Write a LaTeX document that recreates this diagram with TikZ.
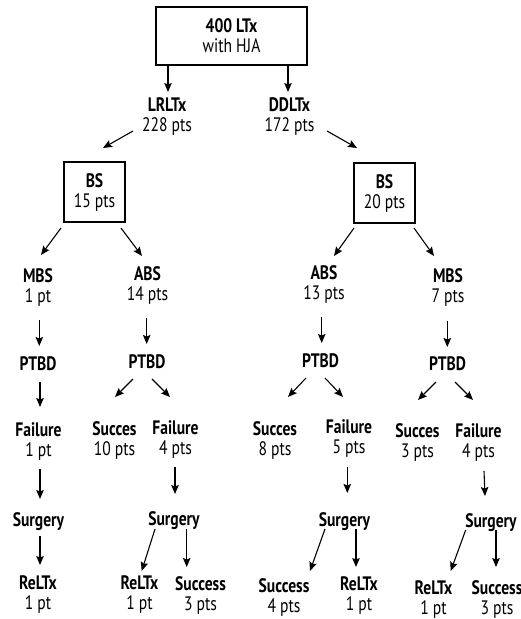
\documentclass[tikz,border=0pt]{standalone}
\usepackage{fontspec}
\setmainfont[FakeStretch=0.8]{PT Sans}
\usetikzlibrary{arrows.meta, calc}

\begin{document}
\begin{tikzpicture}[
  x=1pt, y=-1pt,
  lab/.style   = {align=center, inner sep=0pt, font=\fontsize{19.5}{20}\selectfont},
  block/.style = {lab, draw, line width=1.4pt, minimum height=60pt, minimum width=61pt},
  arrow/.style = {line width=1.1pt, -{Stealth[length=9pt, width=7.5pt, inset=1.5pt]}}
]
  \useasboundingbox (0,0) rectangle (521,619);

  % Root and first split
  \node[block, minimum width=151pt, minimum height=58pt] (root) at (231.5,36) {\textbf{400 LTx}\\with HJA};
  \node[lab] (lrltx) at (167,116.5) {\textbf{LRLTx}\\228 pts};
  \node[lab] (ddltx) at (289.5,116.5) {\textbf{DDLTx}\\172 pts};

  % BS boxes
  \node[block] (bsL) at (94.5,192) {\textbf{BS}\\15 pts};
  \node[block] (bsR) at (384.5,193) {\textbf{BS}\\20 pts};

  % Second level
  \node[lab] (mbsL) at (38,287.5)  {\textbf{MBS}\\1 pt};
  \node[lab] (absL) at (147.5,285.5) {\textbf{ABS}\\14 pts};
  \node[lab] (absR) at (324,284.5) {\textbf{ABS}\\13 pts};
  \node[lab] (mbsR) at (448,287)   {\textbf{MBS}\\7 pts};

  % PTBD
  \node[lab] (ptbdA) at (38,364)     {\textbf{PTBD}};
  \node[lab] (ptbdB) at (147,362)    {\textbf{PTBD}};
  \node[lab] (ptbdC) at (320.5,360.5) {\textbf{PTBD}};
  \node[lab] (ptbdD) at (447.5,363.5) {\textbf{PTBD}};

  % Outcomes
  \node[lab] (failA) at (38.5,441.5) {\textbf{Failure}\\1 pt};
  \node[lab] (succB) at (114.5,440)  {\textbf{Succes}\\10 pts};
  \node[lab] (failB) at (175.5,440)  {\textbf{Failure}\\4 pts};
  \node[lab] (succC) at (275,440)    {\textbf{Succes}\\8 pts};
  \node[lab] (failC) at (349,439)    {\textbf{Failure}\\5 pts};
  \node[lab] (succD) at (417.5,442.5) {\textbf{Succes}\\3 pts};
  \node[lab] (failD) at (478.5,442.5) {\textbf{Failure}\\4 pts};

  % Surgery
  \node[lab] (surgA) at (38.5,522)  {\textbf{Surgery}};
  \node[lab] (surgB) at (174,520.5) {\textbf{Surgery}};
  \node[lab] (surgC) at (344.5,522) {\textbf{Surgery}};
  \node[lab] (surgD) at (491,522.5) {\textbf{Surgery}};

  % Final results
  \node[lab] (relA) at (38,595)    {\textbf{ReLTx}\\1 pt};
  \node[lab] (relB) at (139.5,595) {\textbf{ReLTx}\\1 pt};
  \node[lab] (sucB) at (200.5,595) {\textbf{Success}\\3 pts};
  \node[lab] (sucC) at (284,597)   {\textbf{Success}\\4 pts};
  \node[lab] (relC) at (359,595.5) {\textbf{ReLTx}\\1 pt};
  \node[lab] (relD) at (433.5,599.5) {\textbf{ReLTx}\\1 pt};
  \node[lab] (sucD) at (497,599.5) {\textbf{Success}\\3 pts};

  % Connections
  \draw[arrow] ($(root)+(-63.5,29)$) -- ($(lrltx)+(1,-24.5)$);
  \draw[arrow] ($(root)+(56.5,29)$) -- ($(ddltx)+(-1.5,-24.5)$);
  \draw[arrow] ($(lrltx)+(-34,14.5)$) -- ($(bsL)+(8.5,-44)$);
  \draw[arrow] ($(ddltx)+(37.5,14.5)$) -- ($(bsR)+(-27.5,-45)$);

  \draw[arrow] ($(bsL)+(-33.5,36)$) -- ($(mbsL)+(3,-32.5)$);
  \draw[arrow] ($(bsL)+(26.5,36)$) -- ($(absL)+(-5.5,-29.5)$);
  \draw[arrow] ($(bsR)+(-30.5,35)$) -- ($(absR)+(10,-28.5)$);
  \draw[arrow] ($(bsR)+(29.5,35)$) -- ($(mbsR)+(-14,-31)$);

  \draw[arrow] ($(mbsL)+(1.3,32.5)$) -- ($(ptbdA)+(1.3,-18)$);
  \draw[arrow] ($(absL)+(-0.8,32.5)$) -- ($(ptbdB)+(-0.3,-18)$);
  \draw[arrow] ($(absR)+(-2.3,32.5)$) -- ($(ptbdC)+(1.2,-17.5)$);
  \draw[arrow] ($(mbsR)+(-0.7,34)$) -- ($(ptbdD)+(-0.2,-16.5)$);

  \draw[arrow] ($(ptbdA)+(2,18)$) -- ($(failA)+(1.5,-34.5)$);
  \draw[arrow] ($(ptbdB)+(-14,17)$) -- ($(succB)+(0.5,-43)$);
  \draw[arrow] ($(ptbdB)+(5,17)$) -- ($(failB)+(-5.5,-43)$);
  \draw[arrow] ($(ptbdC)+(-14.5,17.5)$) -- ($(succC)+(13,-43)$);
  \draw[arrow] ($(ptbdC)+(4.5,17.5)$) -- ($(failC)+(-6,-42)$);
  \draw[arrow] ($(ptbdD)+(-11.5,18.5)$) -- ($(succD)+(0.5,-42.5)$);
  \draw[arrow] ($(ptbdD)+(7.5,18.5)$) -- ($(failD)+(-5.5,-42.5)$);

  \draw[arrow] ($(failA)+(1.5,27.5)$) -- ($(surgA)+(1.5,-23)$);
  \draw[arrow] ($(failB)+(-0.5,27)$) -- ($(surgB)+(1,-26.5)$);
  \draw[arrow] ($(failC)+(-1.7,28)$) -- ($(surgC)+(2.8,-29)$);
  \draw[arrow] ($(failD)+(5.5,28.5)$) -- ($(surgD)+(-6,-26.5)$);

  \draw[arrow] ($(surgA)+(1.5,14)$) -- ($(relA)+(2,-30)$);
  \draw[arrow] ($(surgB)+(-19,8.5)$) -- ($(relB)+(2.2,-24)$);
  \draw[arrow] ($(surgB)+(12.7,8.5)$) -- ($(sucB)+(-13.8,-28)$);
  \draw[arrow] ($(surgC)+(-19.5,7)$) -- ($(sucC)+(26,-26)$);
  \draw[arrow] ($(surgC)+(11.5,7)$) -- ($(relC)+(-3,-28.5)$);
  \draw[arrow] ($(surgD)+(-25.3,7.5)$) -- ($(relD)+(17.2,-28.5)$);
  \draw[arrow] ($(surgD)+(5,7.5)$) -- ($(sucD)+(-1,-32.5)$);
\end{tikzpicture}
\end{document}
